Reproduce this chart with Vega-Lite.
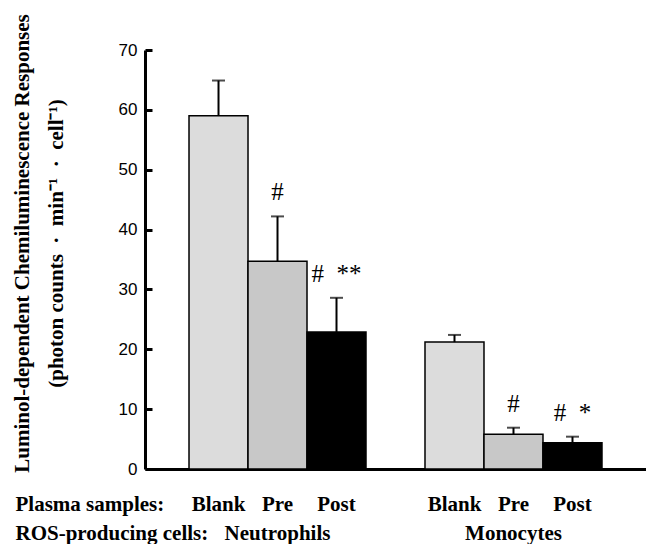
{
  "$schema": "https://vega.github.io/schema/vega-lite/v6.json",
  "width": 501,
  "height": 419,
  "autosize": {"type": "none"},
  "padding": {"left": 145, "top": 50, "right": 0, "bottom": 75},
  "background": "white",
  "data": {
    "values": [
      {"key": "N-Blank", "cell": "Neutrophils", "sample": "Blank", "value": 59.0, "err": 64.9, "sig": ""},
      {"key": "N-Pre", "cell": "Neutrophils", "sample": "Pre", "value": 34.7, "err": 42.2, "sig": "#"},
      {"key": "N-Post", "cell": "Neutrophils", "sample": "Post", "value": 22.9, "err": 28.6, "sig": "#\u00a0 **"},
      {"key": "M-Blank", "cell": "Monocytes", "sample": "Blank", "value": 21.2, "err": 22.4, "sig": ""},
      {"key": "M-Pre", "cell": "Monocytes", "sample": "Pre", "value": 5.8, "err": 6.9, "sig": "#"},
      {"key": "M-Post", "cell": "Monocytes", "sample": "Post", "value": 4.4, "err": 5.4, "sig": "#\u00a0 *"}
    ]
  },
  "encoding": {
    "x": {
      "field": "key",
      "type": "nominal",
      "sort": null,
      "scale": {
        "domain": ["N-Blank", "N-Pre", "N-Post", "gap", "M-Blank", "M-Pre", "M-Post"],
        "paddingInner": 0,
        "paddingOuter": 0.746
      },
      "axis": {
        "title": ["Plasma samples:", "ROS-producing cells:"],
        "labelExpr": "datum.value == 'N-Pre' ? ['Pre', 'Neutrophils'] : datum.value == 'M-Pre' ? ['Pre', 'Monocytes'] : (datum.value == 'N-Blank' || datum.value == 'M-Blank') ? 'Blank' : (datum.value == 'N-Post' || datum.value == 'M-Post') ? 'Post' : ''"
      }
    }
  },
  "layer": [
    {
      "mark": {"type": "bar", "stroke": "black", "strokeWidth": 1.5},
      "encoding": {
        "y": {"field": "value", "type": "quantitative", "title": ["Luminol-dependent Chemiluminescence Responses", "(photon counts\u00a0 \u00b7 \u00a0min\u207b\u00b9\u00a0 \u00b7 \u00a0cell\u207b\u00b9)"], "scale": {"domain": [0, 70]}},
        "color": {
          "field": "sample",
          "type": "nominal",
          "scale": {"domain": ["Blank", "Pre", "Post"], "range": ["#dcdcdc", "#c8c8c8", "#000000"]},
          "legend": null
        }
      }
    },
    {
      "mark": {"type": "rule", "color": "black", "strokeWidth": 2},
      "encoding": {
        "y": {"field": "value", "type": "quantitative", "title": ["Luminol-dependent Chemiluminescence Responses", "(photon counts\u00a0 \u00b7 \u00a0min\u207b\u00b9\u00a0 \u00b7 \u00a0cell\u207b\u00b9)"]},
        "y2": {"field": "err"}
      }
    },
    {
      "mark": {"type": "tick", "color": "black", "size": 13, "thickness": 2},
      "encoding": {
        "y": {"field": "err", "type": "quantitative", "title": ["Luminol-dependent Chemiluminescence Responses", "(photon counts\u00a0 \u00b7 \u00a0min\u207b\u00b9\u00a0 \u00b7 \u00a0cell\u207b\u00b9)"]}
      }
    },
    {
      "mark": {"type": "text", "font": "Liberation Serif", "fontSize": 25, "color": "black", "baseline": "alphabetic", "align": "center", "dy": -16},
      "encoding": {
        "y": {"field": "err", "type": "quantitative", "title": ["Luminol-dependent Chemiluminescence Responses", "(photon counts\u00a0 \u00b7 \u00a0min\u207b\u00b9\u00a0 \u00b7 \u00a0cell\u207b\u00b9)"]},
        "text": {"field": "sig"}
      }
    }
  ],
  "config": {
    "view": {"stroke": null},
    "axisX": {
      "domainColor": "black",
      "domainWidth": 3,
      "ticks": false,
      "tickSize": 0,
      "labelAngle": 0,
      "labelFont": "Liberation Serif",
      "labelFontWeight": "bold",
      "labelFontSize": 21,
      "labelColor": "black",
      "labelBaseline": "alphabetic",
      "labelLineHeight": 29,
      "labelPadding": 41,
      "labelLimit": 0,
      "labelOverlap": false,
      "titleFont": "Liberation Serif",
      "titleFontWeight": "bold",
      "titleFontSize": 21,
      "titleColor": "black",
      "titleAlign": "left",
      "titleAnchor": null,
      "titleBaseline": "alphabetic",
      "titleLineHeight": 29,
      "titleX": -130,
      "titleY": 41
    },
    "axisY": {
      "grid": false,
      "tickCount": 7,
      "domainColor": "black",
      "domainWidth": 3,
      "tickColor": "black",
      "tickWidth": 3,
      "tickSize": -7,
      "labelFont": "Liberation Sans",
      "labelFontSize": 17,
      "labelColor": "black",
      "labelPadding": 15,
      "titleFont": "Liberation Serif",
      "titleFontWeight": "bold",
      "titleFontSize": 21,
      "titleColor": "black",
      "titleAngle": -90,
      "titleAlign": "center",
      "titleBaseline": "alphabetic",
      "titleLineHeight": 34,
      "titleX": -117,
      "titleY": 193
    }
  }
}
